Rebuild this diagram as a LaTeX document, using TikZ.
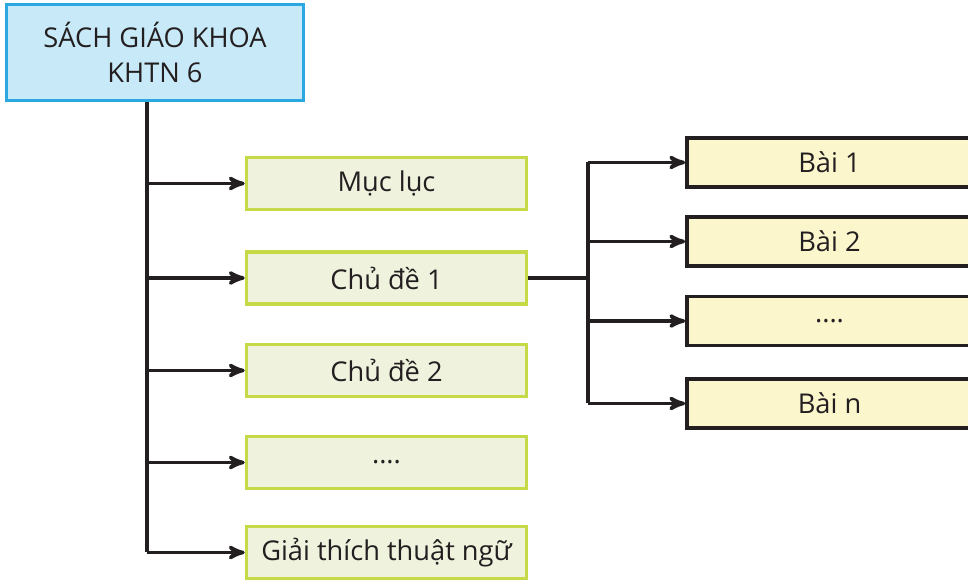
\documentclass[tikz,border=0pt]{standalone}
\usepackage{fontspec}
\setmainfont{Open Sans}
\usetikzlibrary{arrows,positioning}

\definecolor{inkdark}{HTML}{231F20}
\definecolor{topfill}{HTML}{C8E9F7}
\definecolor{topline}{HTML}{2AA8DF}
\definecolor{leftfill}{HTML}{EFF3DD}
\definecolor{leftline}{HTML}{C6DA48}
\definecolor{rightfill}{HTML}{FCF6CD}

\begin{document}
\begin{tikzpicture}[> = {stealth'[scale = 1.4]}, font = \fontsize{15.5}{20}\selectfont, text = inkdark]
    \tikzset{
      book/.style = {draw = topline, fill = topfill, line width = 2.2pt, minimum width = 5.94cm, minimum height = 1.92cm, align = center, inner sep = 0pt},
      part/.style = {draw = leftline, fill = leftfill, line width = 2pt, minimum width = 5.6cm, minimum height = 1.04cm, inner sep = 0pt},
      lesson/.style = {draw = inkdark, fill = rightfill, line width = 2pt, minimum width = 5.7cm, minimum height = 0.98cm, inner sep = 0pt},
      link/.style = {draw = inkdark, line width = 2pt},
    }

    \useasboundingbox (0, 0) rectangle (19.36, -11.7);

    \node [book] (sgk) at (3.1, -1.05) {SÁCH GIÁO KHOA\\KHTN 6};

    \node [part] (mucluc) at (7.73, -3.67) {Mục lục};
    \node [part] (chude1) at (7.73, -5.56) {Chủ đề 1};
    \node [part] (chude2) at (7.73, -7.41) {Chủ đề 2};
    \node [part] (chudex) at (7.73, -9.25) {....};
    \node [part] (giaithich) at (7.73, -11.05) {Giải thích thuật ngữ};

    \node [lesson] (bai1) at (16.59, -3.25) {Bài 1};
    \node [lesson] (bai2) at (16.59, -4.83) {Bài 2};
    \node [lesson] (baix) at (16.59, -6.42) {....};
    \node [lesson] (bain) at (16.59, -8.07) {Bài n};

    \coordinate (trunk) at (2.94, 0);
    \coordinate (branch) at (11.76, 0);

    \draw [link] (sgk.south -| trunk) -- (giaithich.west -| trunk);
    \draw [link, ->] (mucluc.west -| trunk) -- (mucluc.west);
    \draw [link, ->] (chude1.west -| trunk) -- (chude1.west);
    \draw [link, ->] (chude2.west -| trunk) -- (chude2.west);
    \draw [link, ->] (chudex.west -| trunk) -- (chudex.west);
    \draw [link, ->] (giaithich.west -| trunk) -- (giaithich.west);

    \draw [link] (chude1.east) -- (chude1.east -| branch);
    \draw [link] (bai1.west -| branch) -- (bain.west -| branch);
    \draw [link, ->] (bai1.west -| branch) -- (bai1.west);
    \draw [link, ->] (bai2.west -| branch) -- (bai2.west);
    \draw [link, ->] (baix.west -| branch) -- (baix.west);
    \draw [link, ->] (bain.west -| branch) -- (bain.west);
\end{tikzpicture}
\end{document}
